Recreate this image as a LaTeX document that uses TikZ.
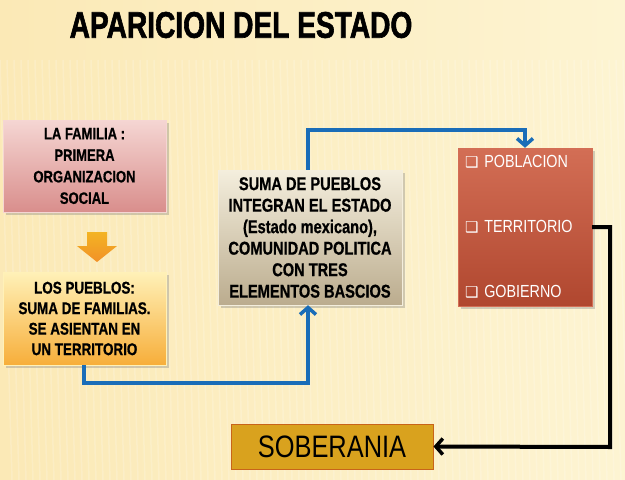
\documentclass[tikz,border=0pt]{standalone}
\usepackage{fontspec}
\setmainfont{Liberation Sans}
\newfontfamily\narrow[FakeStretch=0.82]{Liberation Sans}
\newfontfamily\boxfont[FakeStretch=0.79,FakeBold=0.8]{Liberation Sans}
\newfontfamily\titlefont[FakeStretch=0.76,FakeBold=1.6]{Liberation Sans}
\newfontfamily\symb{DejaVu Sans}
\usetikzlibrary{arrows.meta,shadows}
\definecolor{bgA}{HTML}{FBE9B6}
\definecolor{bgB}{HTML}{FDF4D2}
\definecolor{pinkT}{HTML}{F5D6D3}
\definecolor{pinkB}{HTML}{D98E8C}
\definecolor{yelT}{HTML}{FFF1B8}
\definecolor{yelB}{HTML}{F7AE3A}
\definecolor{tanT}{HTML}{F4EEDD}
\definecolor{tanB}{HTML}{BBAC8E}
\definecolor{redT}{HTML}{D36E55}
\definecolor{redB}{HTML}{B0472F}
\definecolor{goldF}{HTML}{D9A21E}
\definecolor{goldD}{HTML}{C8641A}
\definecolor{blueL}{HTML}{1A6DB8}
\definecolor{arrO}{HTML}{F0A12C}
\newcommand{\chk}{{\symb\fontsize{15}{15}\selectfont ❑}}
\tikzset{
  box/.style={rectangle, inner sep=0pt, align=center, text=black,
    drop shadow={opacity=0.35, shadow xshift=3pt, shadow yshift=-3pt}},
  bluearrow/.style={draw=blueL, line width=4pt,
    -{Straight Barb[length=7pt,width=16pt,line width=3.5pt]}},
  blackarrow/.style={draw=black, line width=4pt,
    -{Straight Barb[length=7pt,width=16pt,line width=3.5pt]}},
}
\begin{document}
\begin{tikzpicture}[x=1pt,y=-1pt]
\useasboundingbox (0,0) rectangle (625,480);
\shade[left color=bgA, right color=bgB] (0,0) rectangle (625,480);
\foreach \i in {0,7,...,625}{
  \draw[white, opacity=0.18, line width=1.5pt] (\i,60) -- (\i+12,480);
}

\node[font=\titlefont\bfseries\fontsize{37}{40}\selectfont] (title) at (241,25) {APARICION DEL ESTADO};

\node[box, minimum width=163pt, minimum height=92pt, top color=pinkT, bottom color=pinkB,
  draw=pinkT, font=\boxfont\bfseries\fontsize{16.5}{21.5}\selectfont] (fam) at (84.5,166)
  {LA FAMILIA :\\PRIMERA\\ORGANIZACION\\SOCIAL};

\node[box, minimum width=163pt, minimum height=93pt, top color=yelT, bottom color=yelB,
  draw=yelT, font=\boxfont\bfseries\fontsize{17}{20.5}\selectfont] (pue) at (84.5,318.5)
  {LOS PUEBLOS:\\SUMA DE FAMILIAS.\\SE ASIENTAN EN\\UN TERRITORIO};

\node[box, minimum width=184pt, minimum height=135pt, top color=tanT, bottom color=tanB,
  draw=tanT, font=\boxfont\bfseries\fontsize{18.5}{21.5}\selectfont] (est) at (310,237.5)
  {SUMA DE PUEBLOS\\INTEGRAN EL ESTADO\\(Estado mexicano),\\COMUNIDAD POLITICA\\CON TRES\\ELEMENTOS BASCIOS};

\node[box, minimum height=158pt, text width=120pt, inner xsep=7pt, align=left,
  top color=redT, bottom color=redB, draw=redT, text=white,
  font=\narrow\fontsize{17.5}{65}\selectfont] (ele) at (525,227)
  {\chk\ POBLACION\\\chk\ TERRITORIO\\\chk\ GOBIERNO};

\node[rectangle, minimum width=202pt, minimum height=45pt, fill=goldF, draw=goldD, line width=1pt,
  font=\narrow\fontsize{31}{34}\selectfont] (sob) at (332,446.5) {SOBERANIA};

% orange block arrow from fam to pue
\shade[top color=arrO!80!yellow, bottom color=arrO!90!red]
  (87,232) -- (107,232) -- (107,246) -- (117,246) -- (97,262) -- (77,246) -- (87,246) -- cycle;

\coordinate (c1) at (84,383);
\coordinate (c3) at (308,130);
\coordinate (c5) at (610,447);
\draw[bluearrow] ([xshift=-0.5pt]pue.south) |- (c1) -| ([xshift=-2pt]est.south);
\draw[bluearrow] ([xshift=-2pt]est.north) |- (c3) -| (ele.north);
\draw[blackarrow] (ele.east) -| (c5) -- (sob.east);
\end{tikzpicture}
\end{document}
